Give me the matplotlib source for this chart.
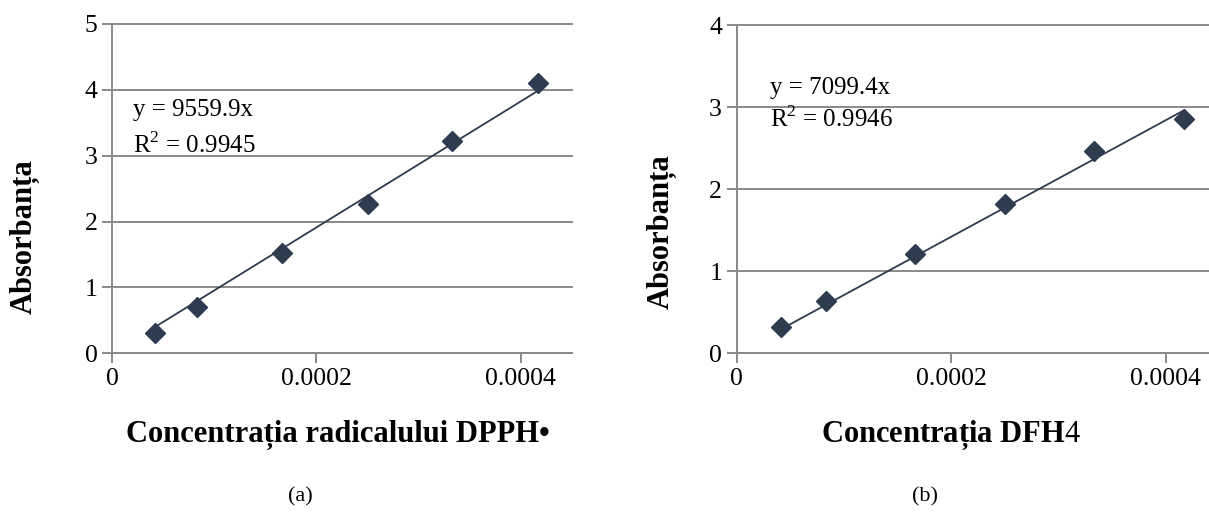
import numpy as np
import matplotlib
matplotlib.use("Agg")
import matplotlib.pyplot as plt

plt.rcParams['font.family'] = ['Liberation Serif', 'DejaVu Serif']
plt.rcParams['mathtext.fontset'] = 'custom'
plt.rcParams['mathtext.rm'] = 'Liberation Serif'

# === Data ===
conc = [4.17e-5, 8.33e-5, 1.667e-4, 2.5e-4, 3.33e-4, 4.17e-4]
abs_dpph = [0.31, 0.70, 1.52, 2.26, 3.22, 4.11]
abs_dfh4 = [0.32, 0.64, 1.21, 1.82, 2.47, 2.85]
slope_dpph = 9559.9
slope_dfh4 = 7099.4
r2_dpph = 0.9945
r2_dfh4 = 0.9946

x_ticks = [0, 0.0002, 0.0004]
x_ticklabels = ['0', '0.0002', '0.0004']
y_ticks_a = [0, 1, 2, 3, 4, 5]
y_ticks_b = [0, 1, 2, 3, 4]

xlabel_a = 'Concentrația radicalului DPPH•'
xlabel_b = r'Concentrația DFH$\mathrm{4}$'
ylabel = 'Absorbanța'

W, H = 1209, 517
fig = plt.figure(figsize=(W / 100, H / 100), dpi=100)

grid_col = '#8a8a8a'
mark_col = '#2f3b4e'


def px_axes(x0, y_top, x1, y_bot):
    return fig.add_axes([x0 / W, 1 - y_bot / H, (x1 - x0) / W, (y_bot - y_top) / H])


def style(ax, yticks):
    ax.set_xlim(0, 0.00045)
    ax.set_ylim(0, yticks[-1])
    ax.set_xticks(x_ticks)
    ax.set_xticklabels(x_ticklabels)
    ax.set_yticks(yticks)
    for s in ['top', 'right']:
        ax.spines[s].set_visible(False)
    for s in ['left', 'bottom']:
        ax.spines[s].set_color(grid_col)
        ax.spines[s].set_linewidth(1.4)
    ax.tick_params(direction='out', length=7.5, width=1.4, color=grid_col,
                   labelsize=18.5, pad=3)
    ax.yaxis.grid(True, color=grid_col, linewidth=1.4)
    for ln in ax.get_ygridlines():
        ln.set_clip_on(False)
    ax.set_axisbelow(True)


def panel(ax, y, slope, r2, eq_xy, r2_xy):
    ax.plot(conc, y, linestyle='none', marker='D', markersize=10,
            color=mark_col, zorder=3)
    xs = np.array([conc[0], conc[-1]])
    ax.plot(xs, slope * xs, color=mark_col, linewidth=1.3, zorder=2)
    ax.text(*eq_xy, f'y = {slope}x', fontsize=18, va='center', ha='left')
    ax.text(*r2_xy, f'R$^2$ = {r2}', fontsize=18, va='center', ha='left')


# (a)
ax1 = px_axes(112.3, 24, 571.7, 353.3)
style(ax1, y_ticks_a)
panel(ax1, abs_dpph, slope_dpph, r2_dpph, (2.0e-5, 3.7), (2.0e-5, 3.16))
ax1.set_xlabel(xlabel_a, fontsize=22, fontweight='bold')
ax1.xaxis.set_label_coords(0.49, -0.248)
ax1.xaxis.label.set_va('center')
ax1.set_ylabel(ylabel, fontsize=22, fontweight='bold')
ax1.yaxis.set_label_coords(-0.19, 0.355)
ax1.yaxis.label.set_va('center')

# (b)
ax2 = px_axes(736.7, 25, 1219.3, 353.3)
style(ax2, y_ticks_b)
panel(ax2, abs_dfh4, slope_dfh4, r2_dfh4, (3.1e-5, 3.23), (3.1e-5, 2.85))
ax2.set_xlabel(xlabel_b, fontsize=22, fontweight='bold')
ax2.xaxis.set_label_coords(0.444, -0.248)
ax2.xaxis.label.set_va('center')
ax2.set_ylabel(ylabel, fontsize=22, fontweight='bold')
ax2.yaxis.set_label_coords(-0.155, 0.37)
ax2.yaxis.label.set_va('center')

fig.text(300 / W, 1 - 497 / H, '(a)', fontsize=16, ha='center', va='center')
fig.text(925 / W, 1 - 497 / H, '(b)', fontsize=16, ha='center', va='center')

fig.savefig('out.png', dpi=100)
